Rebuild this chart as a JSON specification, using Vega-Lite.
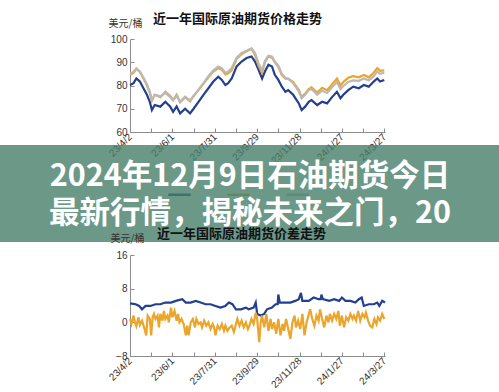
{
  "$schema": "https://vega.github.io/schema/vega-lite/v6.json",
  "autosize": {"type": "pad"},
  "padding": {"left": 0, "top": 13, "right": 0, "bottom": 0},
  "background": "white",
  "bounds": "flush",
  "center": true,
  "spacing": 13,
  "resolve": {"scale": {"color": "independent"}, "legend": {"color": "independent"}},
  "config": {
    "view": {"stroke": null},
    "axis": {"grid": false, "domainColor": "#8c8c8c", "tickColor": "#8c8c8c", "labelColor": "#333333", "labelFont": "Liberation Sans", "labelFontSize": 10, "tickSize": -4, "labelPadding": 7},
    "title": {"font": "Noto Sans CJK SC", "fontSize": 13, "fontWeight": "bold", "color": "#111111"}
  },
  "vconcat": [
    {
      "width": 255,
      "height": 93,
      "title": {"text": "近一年国际原油期货价格走势", "anchor": "start", "frame": "group", "dx": 23, "offset": -8},
      "data": {"values": [
        {"d":0,"WTI":80.2,"Brent":84.6,"Dubai":85.2},
        {"d":5,"WTI":81.0,"Brent":85.4,"Dubai":85.8},
        {"d":9,"WTI":83.0,"Brent":87.2,"Dubai":87.4},
        {"d":14,"WTI":81.7,"Brent":85.8,"Dubai":86.0},
        {"d":19,"WTI":78.8,"Brent":83.0,"Dubai":83.4},
        {"d":24,"WTI":76.0,"Brent":80.0,"Dubai":80.4},
        {"d":28,"WTI":73.0,"Brent":77.0,"Dubai":77.3},
        {"d":31,"WTI":69.4,"Brent":73.5,"Dubai":73.8},
        {"d":35,"WTI":71.6,"Brent":76.0,"Dubai":76.0},
        {"d":43,"WTI":70.9,"Brent":75.0,"Dubai":75.3},
        {"d":50,"WTI":73.0,"Brent":77.3,"Dubai":76.8},
        {"d":57,"WTI":70.9,"Brent":75.5,"Dubai":75.0},
        {"d":61,"WTI":68.7,"Brent":73.8,"Dubai":73.6},
        {"d":66,"WTI":71.0,"Brent":76.0,"Dubai":75.6},
        {"d":71,"WTI":68.0,"Brent":72.8,"Dubai":73.0},
        {"d":78,"WTI":70.0,"Brent":75.0,"Dubai":75.2},
        {"d":85,"WTI":68.0,"Brent":73.2,"Dubai":73.6},
        {"d":90,"WTI":70.0,"Brent":75.5,"Dubai":75.4},
        {"d":97,"WTI":73.0,"Brent":78.0,"Dubai":78.2},
        {"d":104,"WTI":76.0,"Brent":80.8,"Dubai":81.0},
        {"d":111,"WTI":78.8,"Brent":83.5,"Dubai":84.0},
        {"d":118,"WTI":81.7,"Brent":86.0,"Dubai":86.5},
        {"d":125,"WTI":83.8,"Brent":87.5,"Dubai":88.2},
        {"d":130,"WTI":82.4,"Brent":86.8,"Dubai":87.4},
        {"d":135,"WTI":80.2,"Brent":84.8,"Dubai":85.5},
        {"d":139,"WTI":81.0,"Brent":85.3,"Dubai":86.0},
        {"d":144,"WTI":83.0,"Brent":86.5,"Dubai":87.5},
        {"d":151,"WTI":88.2,"Brent":91.5,"Dubai":92.0},
        {"d":158,"WTI":90.3,"Brent":93.5,"Dubai":94.0},
        {"d":165,"WTI":91.8,"Brent":94.7,"Dubai":95.0},
        {"d":172,"WTI":92.5,"Brent":95.8,"Dubai":96.0},
        {"d":177,"WTI":90.3,"Brent":93.2,"Dubai":94.0},
        {"d":182,"WTI":86.7,"Brent":88.5,"Dubai":89.5},
        {"d":187,"WTI":83.0,"Brent":85.5,"Dubai":86.5},
        {"d":191,"WTI":86.0,"Brent":90.0,"Dubai":90.5},
        {"d":196,"WTI":88.9,"Brent":92.5,"Dubai":92.8},
        {"d":201,"WTI":88.2,"Brent":92.0,"Dubai":92.5},
        {"d":205,"WTI":84.6,"Brent":90.0,"Dubai":90.3},
        {"d":210,"WTI":82.4,"Brent":88.0,"Dubai":88.5},
        {"d":215,"WTI":79.5,"Brent":84.5,"Dubai":85.0},
        {"d":220,"WTI":77.3,"Brent":83.0,"Dubai":83.2},
        {"d":224,"WTI":78.0,"Brent":83.0,"Dubai":82.8},
        {"d":231,"WTI":76.0,"Brent":81.5,"Dubai":81.0},
        {"d":239,"WTI":72.3,"Brent":78.0,"Dubai":77.5},
        {"d":243,"WTI":69.4,"Brent":75.0,"Dubai":74.5},
        {"d":248,"WTI":70.9,"Brent":76.5,"Dubai":76.0},
        {"d":253,"WTI":73.0,"Brent":78.5,"Dubai":78.0},
        {"d":257,"WTI":73.7,"Brent":79.2,"Dubai":78.5},
        {"d":265,"WTI":71.6,"Brent":77.0,"Dubai":76.0},
        {"d":272,"WTI":73.0,"Brent":79.0,"Dubai":77.8},
        {"d":279,"WTI":72.3,"Brent":78.0,"Dubai":76.8},
        {"d":286,"WTI":75.0,"Brent":80.5,"Dubai":79.2},
        {"d":293,"WTI":77.3,"Brent":83.0,"Dubai":81.5},
        {"d":298,"WTI":74.5,"Brent":80.0,"Dubai":78.5},
        {"d":302,"WTI":76.0,"Brent":81.5,"Dubai":79.8},
        {"d":309,"WTI":78.0,"Brent":83.3,"Dubai":81.5},
        {"d":316,"WTI":79.5,"Brent":84.0,"Dubai":82.2},
        {"d":324,"WTI":78.8,"Brent":83.5,"Dubai":82.0},
        {"d":331,"WTI":80.2,"Brent":84.5,"Dubai":83.0},
        {"d":338,"WTI":79.5,"Brent":83.5,"Dubai":82.2},
        {"d":345,"WTI":81.7,"Brent":85.5,"Dubai":84.0},
        {"d":350,"WTI":83.0,"Brent":87.5,"Dubai":86.0},
        {"d":354,"WTI":81.7,"Brent":86.3,"Dubai":85.0},
        {"d":360,"WTI":82.4,"Brent":86.5,"Dubai":85.5}
      ]},
      "transform": [{"fold": ["WTI", "Brent", "Dubai"], "as": ["series", "price"]}],
      "mark": {"type": "line", "strokeWidth": 2.2, "interpolate": "linear"},
      "encoding": {
        "x": {"field": "d", "type": "quantitative", "scale": {"domain": [0, 361], "nice": false},
              "axis": {"title": null, "values": [0,30,60,90,120,150,180,210,240,270,300,330,360], "labelAngle": -45, "labelAlign": "right", "labelBaseline": "middle",
                       "labelExpr": "timeFormat(datetime(2023, 3, 2 + datum.value), '%y/%-m/%-d')"}},
        "y": {"field": "price", "type": "quantitative", "scale": {"domain": [60, 100], "nice": false, "zero": false},
              "axis": {"values": [60,70,80,90,100], "title": "美元/桶", "titleAngle": 0, "titleAlign": "left", "titleBaseline": "middle", "titleX": -22, "titleY": -16, "titleFontSize": 10, "titleFontWeight": "normal", "titleColor": "#333333", "titleFont": "Noto Sans CJK SC"}},
        "color": {"field": "series", "type": "nominal", "sort": ["WTI", "Brent", "Dubai"],
                  "scale": {"domain": ["WTI", "Brent", "Dubai"], "range": ["#233f8f", "#eba52b", "#b9b9b9"]},
                  "legend": {"title": null, "orient": "none", "legendX": 37, "legendY": 143, "direction": "horizontal", "symbolType": "stroke", "symbolStrokeWidth": 2.5, "symbolSize": 500, "labelExpr": "''", "labelOffset": 0, "columnPadding": 26}}
      }
    },
    {
      "width": 515,
      "height": 97,
      "view": {"fill": "#477e6a", "fillOpacity": 0.8, "stroke": null},
      "data": {"values": [
        {"line": 1, "text": "2024年12月9日石油期货今日"},
        {"line": 2, "text": "最新行情，揭秘未来之门，20"}
      ]},
      "mark": {"type": "text", "font": "Noto Sans CJK SC", "fontSize": 30.5, "fontWeight": "bold", "color": "white", "dx": -7.5, "dy": 2, "baseline": "middle"},
      "encoding": {
        "y": {"field": "line", "type": "ordinal", "axis": null, "scale": {"padding": 0.78}},
        "text": {"field": "text"}
      }
    },
    {
      "width": 255,
      "height": 101,
      "title": {"text": "近一年国际原油期货价差走势", "anchor": "start", "frame": "group", "dx": 27, "offset": -8},
      "data": {"values": [
        {"d":0,"s":"Brent-WTI","v":4.5},{"d":8,"s":"Brent-WTI","v":4.3},{"d":13,"s":"Brent-WTI","v":3.9},{"d":17,"s":"Brent-WTI","v":3.1},
        {"d":22,"s":"Brent-WTI","v":3.9},{"d":29,"s":"Brent-WTI","v":3.9},{"d":36,"s":"Brent-WTI","v":4.3},{"d":43,"s":"Brent-WTI","v":4.3},
        {"d":50,"s":"Brent-WTI","v":4.7},{"d":58,"s":"Brent-WTI","v":4.7},{"d":65,"s":"Brent-WTI","v":5.1},{"d":74,"s":"Brent-WTI","v":5.5},
        {"d":79,"s":"Brent-WTI","v":4.7},{"d":86,"s":"Brent-WTI","v":4.7},{"d":93,"s":"Brent-WTI","v":5.1},{"d":100,"s":"Brent-WTI","v":4.7},
        {"d":107,"s":"Brent-WTI","v":4.3},{"d":114,"s":"Brent-WTI","v":4.3},{"d":121,"s":"Brent-WTI","v":3.9},{"d":128,"s":"Brent-WTI","v":3.5},
        {"d":135,"s":"Brent-WTI","v":3.9},{"d":140,"s":"Brent-WTI","v":4.7},{"d":145,"s":"Brent-WTI","v":4.3},{"d":150,"s":"Brent-WTI","v":3.1},
        {"d":157,"s":"Brent-WTI","v":3.1},{"d":164,"s":"Brent-WTI","v":3.5},{"d":168,"s":"Brent-WTI","v":3.1},{"d":175,"s":"Brent-WTI","v":3.5},
        {"d":178,"s":"Brent-WTI","v":4.7},{"d":180,"s":"Brent-WTI","v":2.0},{"d":185,"s":"Brent-WTI","v":1.6},{"d":190,"s":"Brent-WTI","v":2.0},
        {"d":194,"s":"Brent-WTI","v":3.1},{"d":201,"s":"Brent-WTI","v":3.5},{"d":206,"s":"Brent-WTI","v":4.3},{"d":209,"s":"Brent-WTI","v":4.3},
        {"d":210,"s":"Brent-WTI","v":6.6},{"d":212,"s":"Brent-WTI","v":4.7},{"d":220,"s":"Brent-WTI","v":4.7},{"d":227,"s":"Brent-WTI","v":4.7},
        {"d":234,"s":"Brent-WTI","v":5.1},{"d":239,"s":"Brent-WTI","v":5.5},{"d":242,"s":"Brent-WTI","v":7.0},{"d":244,"s":"Brent-WTI","v":5.1},
        {"d":253,"s":"Brent-WTI","v":5.1},{"d":260,"s":"Brent-WTI","v":5.9},{"d":267,"s":"Brent-WTI","v":5.5},{"d":270,"s":"Brent-WTI","v":5.5},
        {"d":271,"s":"Brent-WTI","v":6.6},{"d":273,"s":"Brent-WTI","v":5.5},{"d":282,"s":"Brent-WTI","v":5.1},{"d":289,"s":"Brent-WTI","v":5.5},
        {"d":296,"s":"Brent-WTI","v":5.1},{"d":300,"s":"Brent-WTI","v":5.9},{"d":305,"s":"Brent-WTI","v":5.1},{"d":312,"s":"Brent-WTI","v":5.1},
        {"d":319,"s":"Brent-WTI","v":4.7},{"d":324,"s":"Brent-WTI","v":5.5},{"d":328,"s":"Brent-WTI","v":5.9},{"d":331,"s":"Brent-WTI","v":3.9},
        {"d":338,"s":"Brent-WTI","v":4.3},{"d":345,"s":"Brent-WTI","v":4.3},{"d":350,"s":"Brent-WTI","v":4.7},{"d":353,"s":"Brent-WTI","v":3.9},
        {"d":357,"s":"Brent-WTI","v":5.1},{"d":361,"s":"Brent-WTI","v":4.7},
        {"d":0,"s":"Brent-Dubai","v":0.8},{"d":2,"s":"Brent-Dubai","v":-0.4},{"d":5,"s":"Brent-Dubai","v":1.6},{"d":7,"s":"Brent-Dubai","v":0},
        {"d":9,"s":"Brent-Dubai","v":-0.9},{"d":12,"s":"Brent-Dubai","v":1.2},{"d":14,"s":"Brent-Dubai","v":-0.6},{"d":17,"s":"Brent-Dubai","v":0.4},
        {"d":20,"s":"Brent-Dubai","v":-1.2},{"d":23,"s":"Brent-Dubai","v":-3.1},{"d":25,"s":"Brent-Dubai","v":1.6},{"d":28,"s":"Brent-Dubai","v":0.8},
        {"d":30,"s":"Brent-Dubai","v":-3.1},{"d":32,"s":"Brent-Dubai","v":1.2},{"d":34,"s":"Brent-Dubai","v":2.0},{"d":36,"s":"Brent-Dubai","v":0.8},
        {"d":39,"s":"Brent-Dubai","v":1.6},{"d":41,"s":"Brent-Dubai","v":-1.2},{"d":43,"s":"Brent-Dubai","v":2.0},{"d":46,"s":"Brent-Dubai","v":0.4},
        {"d":48,"s":"Brent-Dubai","v":2.7},{"d":50,"s":"Brent-Dubai","v":0.8},{"d":53,"s":"Brent-Dubai","v":1.6},{"d":55,"s":"Brent-Dubai","v":0},
        {"d":58,"s":"Brent-Dubai","v":3.5},{"d":60,"s":"Brent-Dubai","v":1.2},{"d":63,"s":"Brent-Dubai","v":2.7},{"d":66,"s":"Brent-Dubai","v":0.4},
        {"d":68,"s":"Brent-Dubai","v":2.0},{"d":70,"s":"Brent-Dubai","v":0},{"d":73,"s":"Brent-Dubai","v":0.8},{"d":76,"s":"Brent-Dubai","v":-0.4},
        {"d":79,"s":"Brent-Dubai","v":-3.1},{"d":81,"s":"Brent-Dubai","v":-0.8},{"d":83,"s":"Brent-Dubai","v":-3.1},{"d":86,"s":"Brent-Dubai","v":0},
        {"d":89,"s":"Brent-Dubai","v":0.8},{"d":92,"s":"Brent-Dubai","v":-1.2},{"d":94,"s":"Brent-Dubai","v":0.8},{"d":97,"s":"Brent-Dubai","v":-0.4},
        {"d":100,"s":"Brent-Dubai","v":0},{"d":102,"s":"Brent-Dubai","v":-1.2},{"d":105,"s":"Brent-Dubai","v":0.4},{"d":108,"s":"Brent-Dubai","v":-0.8},
        {"d":111,"s":"Brent-Dubai","v":0},{"d":114,"s":"Brent-Dubai","v":-1.6},{"d":117,"s":"Brent-Dubai","v":-0.4},{"d":119,"s":"Brent-Dubai","v":-1.2},
        {"d":121,"s":"Brent-Dubai","v":-3.1},{"d":124,"s":"Brent-Dubai","v":-0.8},{"d":127,"s":"Brent-Dubai","v":-1.6},{"d":130,"s":"Brent-Dubai","v":-0.4},
        {"d":133,"s":"Brent-Dubai","v":-2.0},{"d":135,"s":"Brent-Dubai","v":-0.8},{"d":138,"s":"Brent-Dubai","v":-2.0},{"d":141,"s":"Brent-Dubai","v":-1.2},
        {"d":144,"s":"Brent-Dubai","v":-0.8},{"d":147,"s":"Brent-Dubai","v":-2.3},{"d":150,"s":"Brent-Dubai","v":-0.4},{"d":152,"s":"Brent-Dubai","v":0.8},
        {"d":155,"s":"Brent-Dubai","v":-0.8},{"d":158,"s":"Brent-Dubai","v":0.4},{"d":161,"s":"Brent-Dubai","v":-1.2},{"d":164,"s":"Brent-Dubai","v":0},
        {"d":167,"s":"Brent-Dubai","v":-1.6},{"d":169,"s":"Brent-Dubai","v":-0.8},{"d":172,"s":"Brent-Dubai","v":0.8},{"d":175,"s":"Brent-Dubai","v":-0.4},
        {"d":178,"s":"Brent-Dubai","v":2.3},{"d":180,"s":"Brent-Dubai","v":0.8},{"d":183,"s":"Brent-Dubai","v":-4.7},{"d":185,"s":"Brent-Dubai","v":0},
        {"d":187,"s":"Brent-Dubai","v":1.6},{"d":190,"s":"Brent-Dubai","v":-1.2},{"d":193,"s":"Brent-Dubai","v":2.0},{"d":196,"s":"Brent-Dubai","v":-2.0},
        {"d":199,"s":"Brent-Dubai","v":0.8},{"d":201,"s":"Brent-Dubai","v":-1.6},{"d":204,"s":"Brent-Dubai","v":0},{"d":207,"s":"Brent-Dubai","v":-2.7},
        {"d":210,"s":"Brent-Dubai","v":0.8},{"d":213,"s":"Brent-Dubai","v":-3.1},{"d":216,"s":"Brent-Dubai","v":-0.4},{"d":218,"s":"Brent-Dubai","v":-2.0},
        {"d":221,"s":"Brent-Dubai","v":0.8},{"d":224,"s":"Brent-Dubai","v":-1.6},{"d":227,"s":"Brent-Dubai","v":-3.9},{"d":230,"s":"Brent-Dubai","v":0},
        {"d":233,"s":"Brent-Dubai","v":1.6},{"d":235,"s":"Brent-Dubai","v":-1.2},{"d":238,"s":"Brent-Dubai","v":0.4},{"d":241,"s":"Brent-Dubai","v":-1.6},
        {"d":244,"s":"Brent-Dubai","v":2.0},{"d":247,"s":"Brent-Dubai","v":-3.1},{"d":250,"s":"Brent-Dubai","v":0},{"d":252,"s":"Brent-Dubai","v":1.2},
        {"d":255,"s":"Brent-Dubai","v":3.1},{"d":258,"s":"Brent-Dubai","v":0.8},{"d":261,"s":"Brent-Dubai","v":-0.8},{"d":264,"s":"Brent-Dubai","v":1.6},
        {"d":267,"s":"Brent-Dubai","v":0.4},{"d":269,"s":"Brent-Dubai","v":3.1},{"d":272,"s":"Brent-Dubai","v":0.8},{"d":275,"s":"Brent-Dubai","v":-1.2},
        {"d":278,"s":"Brent-Dubai","v":1.6},{"d":281,"s":"Brent-Dubai","v":0},{"d":283,"s":"Brent-Dubai","v":2.0},{"d":286,"s":"Brent-Dubai","v":0.4},
        {"d":289,"s":"Brent-Dubai","v":2.0},{"d":292,"s":"Brent-Dubai","v":0.8},{"d":295,"s":"Brent-Dubai","v":2.7},{"d":297,"s":"Brent-Dubai","v":-0.8},
        {"d":300,"s":"Brent-Dubai","v":1.6},{"d":303,"s":"Brent-Dubai","v":-1.2},{"d":306,"s":"Brent-Dubai","v":1.2},{"d":309,"s":"Brent-Dubai","v":0.4},
        {"d":312,"s":"Brent-Dubai","v":2.0},{"d":315,"s":"Brent-Dubai","v":0.8},{"d":317,"s":"Brent-Dubai","v":1.6},{"d":320,"s":"Brent-Dubai","v":0.4},
        {"d":323,"s":"Brent-Dubai","v":2.7},{"d":326,"s":"Brent-Dubai","v":0.4},{"d":329,"s":"Brent-Dubai","v":2.0},{"d":332,"s":"Brent-Dubai","v":1.2},
        {"d":334,"s":"Brent-Dubai","v":2.3},{"d":337,"s":"Brent-Dubai","v":0.4},{"d":340,"s":"Brent-Dubai","v":-0.8},{"d":343,"s":"Brent-Dubai","v":-1.2},
        {"d":346,"s":"Brent-Dubai","v":0.8},{"d":349,"s":"Brent-Dubai","v":-0.4},{"d":351,"s":"Brent-Dubai","v":1.2},{"d":354,"s":"Brent-Dubai","v":0.4},
        {"d":357,"s":"Brent-Dubai","v":2.0},{"d":360,"s":"Brent-Dubai","v":0.8}
      ]},
      "mark": {"type": "line", "strokeWidth": 2.2},
      "encoding": {
        "x": {"field": "d", "type": "quantitative", "scale": {"domain": [0, 361], "nice": false},
              "axis": {"title": null, "values": [0,30,60,90,120,150,180,210,240,270,300,330,360], "labelAngle": -45, "labelAlign": "right", "labelBaseline": "middle",
                       "labelExpr": "timeFormat(datetime(2023, 3, 2 + datum.value), '%y/%-m/%-d')"}},
        "y": {"field": "v", "type": "quantitative", "scale": {"domain": [-8, 16], "nice": false},
              "axis": {"values": [-8,0,8,16], "title": "美元/桶", "titleAngle": 0, "titleAlign": "left", "titleBaseline": "middle", "titleX": -20, "titleY": -17, "titleFontSize": 10, "titleFontWeight": "normal", "titleColor": "#333333", "titleFont": "Noto Sans CJK SC"}},
        "color": {"field": "s", "type": "nominal",
                  "scale": {"domain": ["Brent-WTI", "Brent-Dubai"], "range": ["#233f8f", "#eba52b"]},
                  "legend": null}
      }
    }
  ]
}
